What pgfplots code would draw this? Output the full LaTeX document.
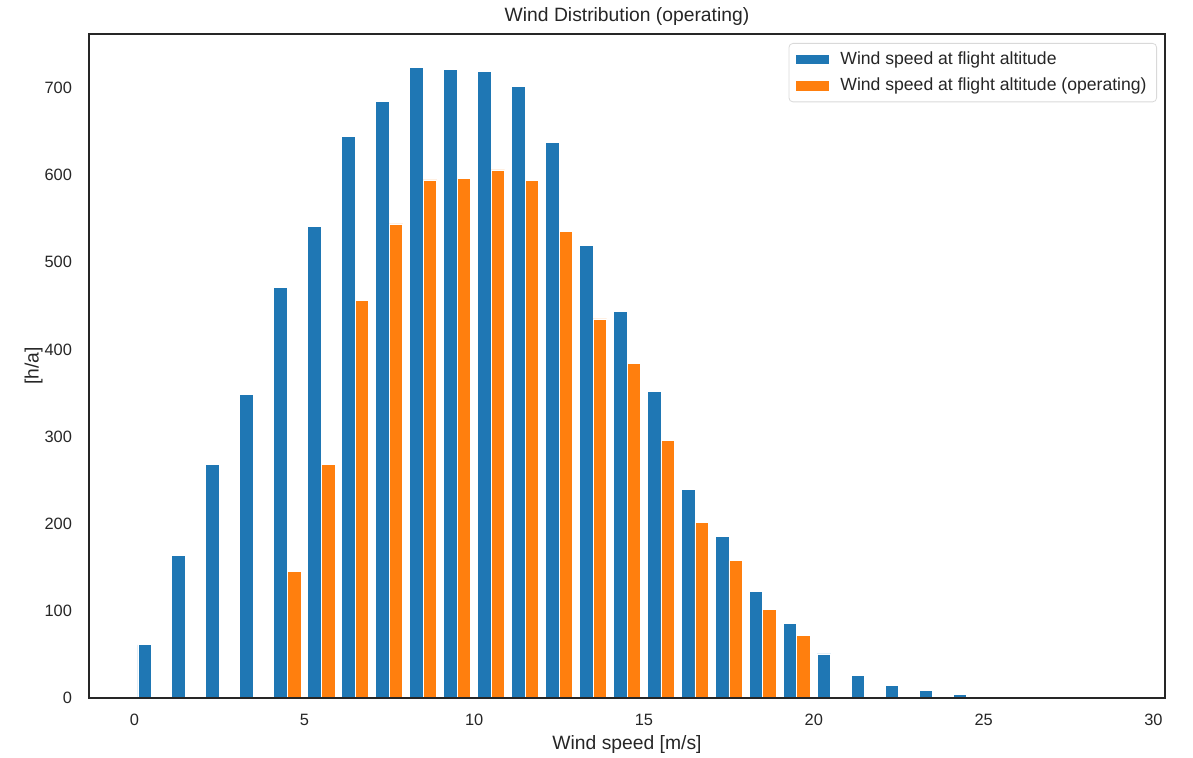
\documentclass[border=0pt]{standalone}
\usepackage{fontspec}
\setmainfont{Liberation Sans}
\usepackage{pgfplots}
\pgfplotsset{compat=1.18}
\definecolor{mblue}{HTML}{1F77B4}
\definecolor{morange}{HTML}{FF7F0E}
\definecolor{txt}{HTML}{262626}
\begin{document}
\begin{tikzpicture}
\begin{axis}[
  scale only axis,
  width=538pt, height=332pt,
  xmin=-1.34, xmax=30.34,
  ymin=0, ymax=762,
  xtick={0,5,10,15,20,25,30},
  ytick={0,100,200,300,400,500,600,700},
  major tick length=0pt,
  axis line style={draw=txt, line width=0.9pt},
  axis on top,
  /pgf/number format/assume math mode=true,
  ticklabel style={font=\fontsize{8.2}{10}\selectfont, text=txt},
  xticklabel style={yshift=-4.5pt},
  yticklabel style={xshift=-5pt},
  title={Wind Distribution (operating)},
  every axis title/.style={at={(axis description cs:0.5,1.0256)}, anchor=center, font=\fontsize{9.65}{11}\selectfont, text=txt},
  xlabel={Wind speed [m/s]},
  xlabel style={at={(axis description cs:0.5,-0.0708)}, anchor=center, font=\fontsize{9.65}{11}\selectfont, text=txt},
  ylabel={[h/a]},
  ylabel style={at={(axis description cs:-0.0515,0.5)}, anchor=center, font=\fontsize{9.65}{11}\selectfont, text=txt},
  ybar, bar width=0.4, bar shift=0pt,
  legend style={at={(1,1)}, anchor=north east, xshift=-4pt, yshift=-4.5pt,
    draw=black!15, rounded corners=2pt, font=\fontsize{8.8}{10}\selectfont, text=txt,
    inner xsep=3pt, inner ysep=2pt, row sep=1.5pt},
  legend cell align=left,
  legend image code/.code={\fill[#1, sharp corners] (0pt,-2.6pt) rectangle (17pt,2.6pt); \path[draw=none, fill=none] (0pt,0pt) -- (20.5pt,0pt);},
]
\addplot[fill=mblue, draw=white, line width=0.4pt] coordinates {
 (0.3,61) (1.3,164) (2.3,268.5) (3.3,348.5) (4.3,471) (5.3,541) (6.3,644)
 (7.3,685) (8.3,724) (9.3,721) (10.3,719.5) (11.3,702) (12.3,638) (13.3,519.5)
 (14.3,444) (15.3,352) (16.3,239.5) (17.3,185.5) (18.3,122) (19.3,86)
 (20.3,50.5) (21.3,26) (22.3,14) (23.3,8.5) (24.3,4) (25.3,2)
};
\addlegendentry{Wind speed at flight altitude}
\addplot[fill=morange, draw=white, line width=0.4pt] coordinates {
 (4.7,145) (5.7,268) (6.7,456.5) (7.7,544) (8.7,594.5) (9.7,596) (10.7,606)
 (11.7,594) (12.7,535) (13.7,435) (14.7,383.6) (15.7,296) (16.7,201.6)
 (17.7,157.6) (18.7,102) (19.7,71.5)
};
\addlegendentry{Wind speed at flight altitude (operating)}
\end{axis}
\pgfresetboundingbox
\path (current axis.south west) ++(-44.5pt,-30pt) rectangle ++(596.5pt,379pt);
\end{tikzpicture}
\end{document}
